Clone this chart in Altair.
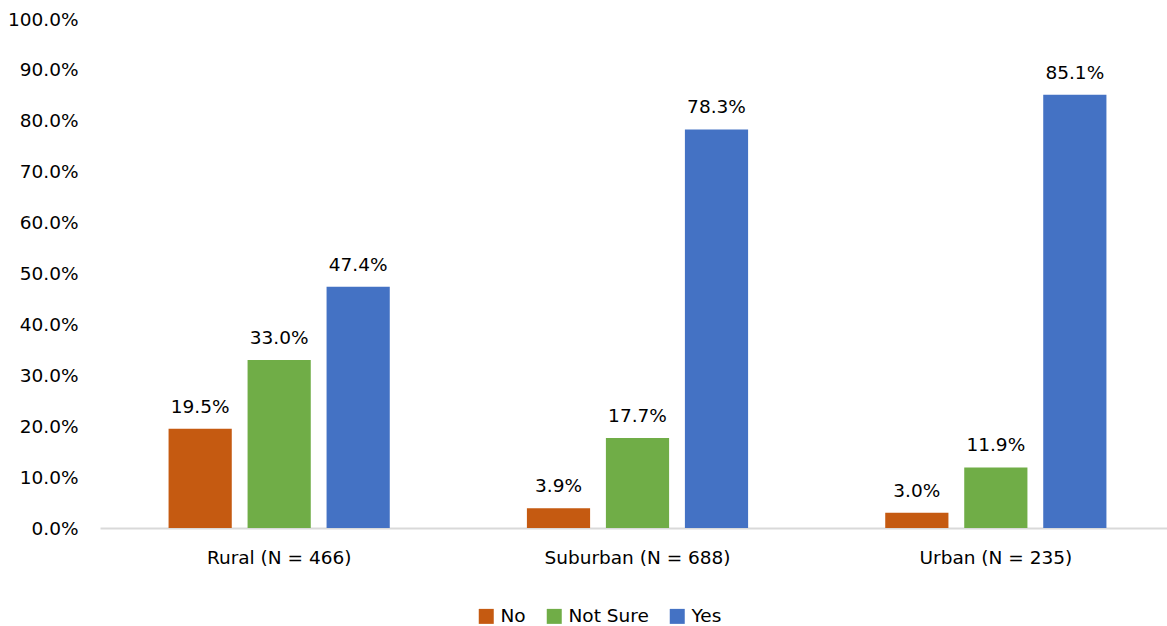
import altair as alt
import pandas as pd

categories = ["Rural (N = 466)", "Suburban (N = 688)", "Urban (N = 235)"]
series = ["No", "Not Sure", "Yes"]
no_vals = [0.195, 0.039, 0.030]
notsure_vals = [0.330, 0.177, 0.119]
yes_vals = [0.474, 0.783, 0.851]
colors = ["#C55A11", "#70AD47", "#4472C4"]

rows = []
for i, c in enumerate(categories):
    for s, vals in zip(series, [no_vals, notsure_vals, yes_vals]):
        rows.append({"category": c, "response": s, "value": vals[i]})
df = pd.DataFrame(rows)

FONT = "DejaVu Sans"
FS = 18.5

base = alt.Chart(df).encode(
    x=alt.X("category:N", sort=categories, title=None,
            scale=alt.Scale(paddingInner=0, paddingOuter=0, range=[0, 1075]),
            axis=alt.Axis(labelAngle=0, ticks=False, domain=True, domainColor="#d9d9d9",
                          domainWidth=2, labelFontSize=FS, labelPadding=20, labelLimit=400,
                          labelColor="#000", labelFont=FONT)),
    xOffset=alt.XOffset("response:N", sort=series,
                        scale=alt.Scale(paddingInner=0.2, paddingOuter=0.868)),
)

bars = base.mark_bar().encode(
    y=alt.Y("value:Q", title=None,
            scale=alt.Scale(domain=[0, 1]),
            axis=alt.Axis(values=[i / 10 for i in range(11)], format=".1%", grid=False,
                          ticks=False, domain=False, labelFontSize=FS, labelPadding=22,
                          labelColor="#000", labelFont=FONT)),
    color=alt.Color("response:N", sort=series, title=None,
                    scale=alt.Scale(domain=series, range=colors),
                    legend=alt.Legend(orient="none", legendX=377, legendY=588,
                                      direction="horizontal", symbolType="square",
                                      symbolSize=225, symbolStrokeWidth=0, labelFontSize=FS,
                                      labelFont=FONT, labelColor="#000", columnPadding=19,
                                      labelOffset=5)),
)

labels = base.mark_text(baseline="alphabetic", dy=-16, fontSize=FS, font=FONT, color="#000").encode(
    y="value:Q",
    text=alt.Text("value:Q", format=".1%"),
)

chart = (bars + labels).properties(
    width=1067, height=509,
    autosize=alt.AutoSizeParams(type="none"),
    padding={"left": 100, "top": 19, "right": 0, "bottom": 98},
).configure(background="white", view=alt.ViewConfig(stroke=None))

chart.save("out.html", embed_options={"renderer": "svg", "actions": False})
